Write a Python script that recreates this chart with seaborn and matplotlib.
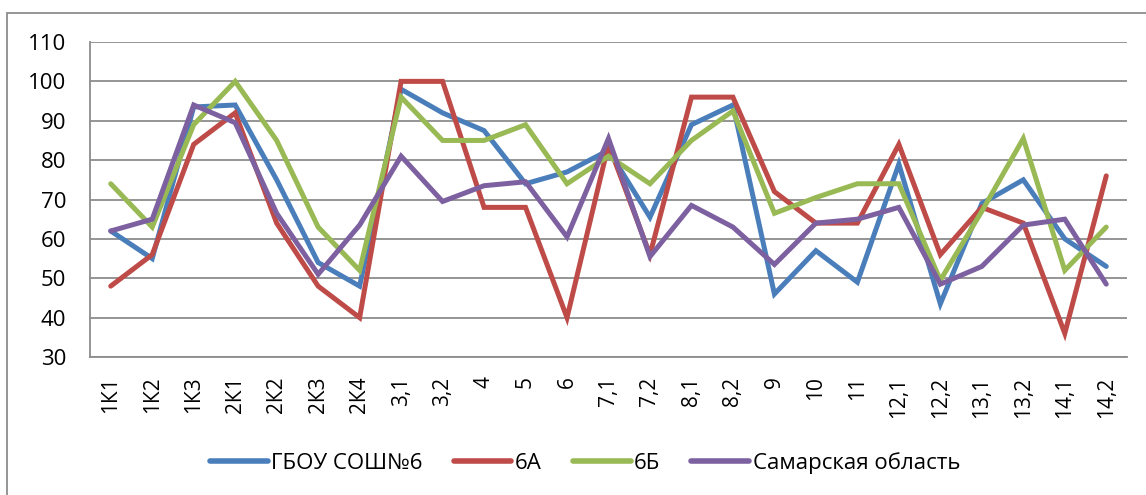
import matplotlib
matplotlib.use("Agg")
import matplotlib.pyplot as plt
import seaborn as sns
import pandas as pd
from matplotlib.patches import Rectangle
from matplotlib.ticker import MultipleLocator, FixedLocator

categories = ["1К1", "1К2", "1К3", "2К1", "2К2", "2К3", "2К4", "3,1", "3,2", "4", "5", "6",
              "7,1", "7,2", "8,1", "8,2", "9", "10", "11", "12,1", "12,2", "13,1", "13,2", "14,1", "14,2"]

school = [62, 55, 93.5, 94, 75, 54, 48, 98, 92, 87.5, 74, 77, 82.5, 65.5, 89, 94, 46, 57, 49, 79, 43.5, 69, 75, 60, 53]
class_6a = [48, 56, 84, 92, 64, 48, 40, 100, 100, 68, 68, 40, 84, 56, 96, 96, 72, 64, 64, 84, 56, 68, 64, 36, 76]
class_6b = [74, 63, 89, 100, 85, 63, 52, 96, 85, 85, 89, 74, 81, 74, 85, 92.5, 66.5, 70.5, 74, 74, 49.5, 67, 85.5, 52, 63]
region = [62, 65, 94, 89.5, 66.5, 51, 63.5, 81, 69.5, 73.5, 74.5, 60.5, 85.5, 55.5, 68.5, 63, 53.5, 64, 65, 68, 48.5, 53, 63.5, 65, 48.5]

series_names = ["ГБОУ СОШ№6", "6А", "6Б", "Самарская область"]
series_values = [school, class_6a, class_6b, region]
colors = ["#4A7EBB", "#BE4B48", "#98B954", "#7D60A0"]

rows = []
for name, vals in zip(series_names, series_values):
    for c, v in zip(categories, vals):
        rows.append({"cat": c, "value": v, "series": name})
df = pd.DataFrame(rows)

sns.set_style("white")
plt.rcParams["font.family"] = ["Open Sans", "DejaVu Sans"]
plt.rcParams["text.color"] = "black"
plt.rcParams["xtick.color"] = "black"
plt.rcParams["ytick.color"] = "black"

W, H = 1146, 495
fig = plt.figure(figsize=(W / 100, H / 100), dpi=100)
ax = fig.add_axes([90 / W, 1 - 357 / H, (1127 - 90) / W, (357 - 42) / H])

sns.lineplot(data=df, x="cat", y="value", hue="series", hue_order=series_names,
             palette=colors, sort=False, linewidth=3.6, ax=ax, legend=False,
             solid_capstyle="round", solid_joinstyle="miter")

grid_c = "#8C8C8C"
ax.set_xlim(-0.5, len(categories) - 0.5)
ax.set_ylim(30, 110)
ax.yaxis.set_major_locator(MultipleLocator(10))
ax.grid(axis="y", color=grid_c, linewidth=1.3)
ax.grid(axis="x", visible=False)
ax.set_axisbelow(True)
for s in ["top", "right"]:
    ax.spines[s].set_visible(False)
for s in ["left", "bottom"]:
    ax.spines[s].set_color(grid_c)
    ax.spines[s].set_linewidth(1.3)

ax.set_xticks(range(len(categories)))
ax.set_xticklabels(categories, rotation=90, fontsize=15)
ax.xaxis.set_minor_locator(FixedLocator([i - 0.5 for i in range(len(categories) + 1)]))
ax.tick_params(axis="x", which="major", length=0, pad=14, labelcolor="black")
ax.tick_params(axis="x", which="minor", length=6, width=1.3, color=grid_c, direction="out")
ax.tick_params(axis="y", which="major", length=6, width=1.3, color=grid_c, direction="out",
               labelsize=16, pad=11, labelcolor="black")
ax.set_xlabel("")
ax.set_ylabel("")

handles = [plt.Line2D([], [], color=c, linewidth=4, solid_capstyle="round") for c in colors]
fig.legend(handles, series_names, loc="center", bbox_to_anchor=(585 / W, 1 - 463 / H),
           ncol=4, frameon=False, fontsize=16, handlelength=2.6, handletextpad=0.15,
           columnspacing=1.4, labelcolor="black")

fig.patches.append(Rectangle((7 / W, -0.05), 1.2, 1 - 12.5 / H + 0.05, transform=fig.transFigure,
                             fill=False, edgecolor="#8C8C8C", linewidth=1.3))

fig.savefig("out.png", dpi=100, facecolor="white")
